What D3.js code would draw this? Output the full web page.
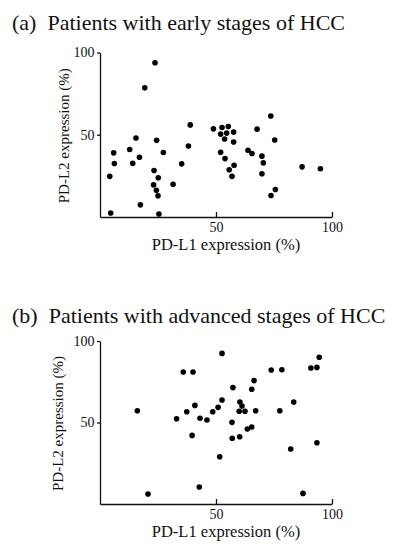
<!DOCTYPE html>
<html>
<head>
<meta charset="utf-8">
<script src="https://cdn.jsdelivr.net/npm/d3@7"></script>
<style>
  html, body { margin: 0; padding: 0; background: #fff; }
  svg { display: block; }
</style>
</head>
<body>
<svg id="chart" width="393" height="550"></svg>
<script>
// ---- Data ----
const titles = ["(a)  Patients with early stages of HCC", "(b)  Patients with advanced stages of HCC"];
const xLabel = "PD-L1 expression (%)";
const yLabel = "PD-L2 expression (%)";
const tickValues = [50, 100];

// Panel (a): early stages — PD-L1 (x), PD-L2 (y)
const earlyPDL1 = [23.7, 19.3, 38.9, 38.1, 35.2, 31.5, 27.3, 24.4, 23.3, 25.1, 23.1, 24.3, 25.0, 25.4,
  15.5, 12.8, 17.0, 14.1, 5.9, 6.2, 4.2, 17.4, 4.6,
  48.9, 52.6, 55.3, 52.0, 54.6, 57.6, 53.7, 57.6, 52.0, 53.9, 57.8, 55.7, 56.9,
  63.8, 65.5, 67.7, 73.6, 75.3, 69.8, 70.4, 69.8, 75.6, 73.7, 87.1, 95.0];
const earlyPDL2 = [93.8, 78.5, 56.0, 43.2, 32.3, 19.9, 39.2, 46.6, 28.3, 23.9, 19.5, 16.3, 12.9, 1.8,
  48.0, 41.0, 36.3, 32.7, 39.0, 32.5, 24.7, 7.4, 2.4,
  53.6, 54.4, 55.0, 50.4, 51.0, 51.6, 47.4, 45.6, 39.4, 35.5, 31.5, 28.7, 24.7,
  40.6, 38.6, 53.4, 61.4, 46.8, 37.0, 32.9, 26.3, 16.7, 13.1, 30.5, 29.3];

// Panel (b): advanced stages — PD-L1 (x), PD-L2 (y)
const advPDL1 = [16.1, 20.7, 33.0, 35.9, 40.1, 37.4, 40.9, 39.7, 43.1, 46.1, 42.8, 48.6, 50.9, 52.6, 52.6, 51.6,
  57.3, 56.9, 57.0, 60.2, 60.3, 61.2, 60.0, 62.5, 63.5, 65.4, 65.4, 66.4, 67.1,
  73.8, 78.4, 77.5, 83.5, 82.2, 87.5, 90.9, 93.5, 94.5, 93.5];
const advPDL2 = [57.2, 6.1, 52.3, 81.0, 81.0, 56.6, 60.5, 42.1, 52.6, 51.5, 10.4, 56.6, 59.3, 63.8, 92.4, 29.0,
  71.4, 50.1, 40.3, 41.3, 62.6, 60.1, 56.9, 56.9, 46.0, 47.2, 70.4, 75.7, 57.2,
  82.2, 82.4, 57.2, 62.6, 33.7, 6.5, 83.4, 83.8, 90.0, 37.6];

// ---- Layout ----
const SERIF = "'Liberation Serif', 'Times New Roman', 'DejaVu Serif', serif";
const svg = d3.select("#chart");
const panels = [
  { title: titles[0], titleY: 30, top: 52.5, bottom: 217, xs: earlyPDL1, ys: earlyPDL2, yLabX: 68.5, xLabY: 250 },
  { title: titles[1], titleY: 322.5, top: 341, bottom: 504, xs: advPDL1, ys: advPDL2, yLabX: 63, xLabY: 537 }
];
const left = 100, right = 332;

panels.forEach(p => {
  const g = svg.append("g").attr("font-family", SERIF);
  const x = d3.scaleLinear().domain([0, 100]).range([left, right]);
  const y = d3.scaleLinear().domain([0, 100]).range([p.bottom, p.top]);

  g.append("text")
    .attr("x", 12).attr("y", p.titleY)
    .attr("font-family", SERIF)
    .style("font-family", SERIF)
    .attr("font-size", 22)
    .attr("fill", "#111")
    .attr("xml:space", "preserve")
    .style("white-space", "pre")
    .text(p.title);

  const xAxis = d3.axisBottom(x).tickValues(tickValues).tickSizeInner(-5).tickSizeOuter(0).tickPadding(5);
  const yAxis = d3.axisLeft(y).tickValues(tickValues).tickSizeInner(3).tickSizeOuter(0).tickPadding(2.5);

  const gx = g.append("g").attr("transform", `translate(0,${p.bottom})`).call(xAxis);
  const gy = g.append("g").attr("transform", `translate(${left},0)`).call(yAxis);
  [gx, gy].forEach(a => {
    a.attr("font-family", SERIF).attr("font-size", 14);
    a.selectAll("path, line").attr("stroke", "#111").attr("stroke-width", 1.3);
    a.selectAll("text").attr("font-size", 14).attr("fill", "#111")
      .attr("font-family", SERIF).style("font-family", SERIF);
  });

  g.append("text")
    .attr("x", 226).attr("y", p.xLabY)
    .attr("text-anchor", "middle")
    .attr("font-family", SERIF).style("font-family", SERIF)
    .attr("font-size", 16.5)
    .attr("fill", "#111")
    .text(xLabel);

  g.append("text")
    .attr("transform", `translate(${p.yLabX},${(p.top + p.bottom) / 2 + 1}) rotate(-90)`)
    .attr("text-anchor", "middle")
    .attr("font-family", SERIF).style("font-family", SERIF)
    .attr("font-size", 15)
    .attr("fill", "#111")
    .text(yLabel);

  g.append("g").selectAll("circle")
    .data(p.xs.map((v, i) => [v, p.ys[i]]))
    .join("circle")
    .attr("cx", d => x(d[0]))
    .attr("cy", d => y(d[1]))
    .attr("r", 2.8)
    .attr("fill", "#000");
});
</script>
</body>
</html>
